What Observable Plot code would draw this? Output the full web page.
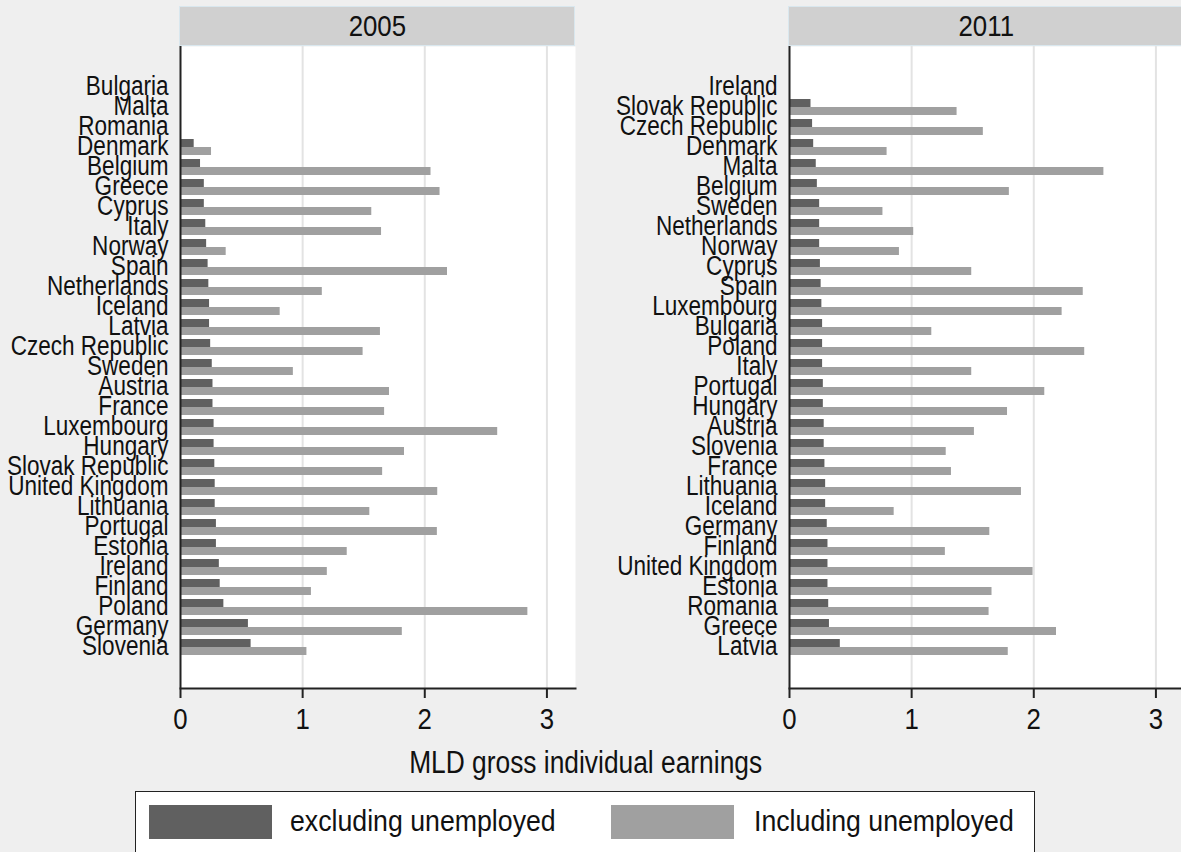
<!DOCTYPE html>
<html>
<head>
<meta charset="utf-8">
<script src="https://cdn.jsdelivr.net/npm/d3@7"></script>
<script src="https://cdn.jsdelivr.net/npm/@observablehq/plot@0.6"></script>
<style>
  html, body { margin: 0; padding: 0; background: #efefef; overflow: hidden; }
  #page { position: relative; width: 1181px; height: 852px; overflow: hidden; background: #efefef;
          font-family: "Liberation Sans", Arial, sans-serif; color: #111; }
  .panel { position: absolute; top: 0; width: 620px; }
  .strip { position: absolute; top: 6px; height: 38px; background: #d0d0d0; border: 1px solid #d9e7ee;
           text-align: center; font-size: 30px; line-height: 38px; }
  .narrow { display: inline-block; transform: scaleX(0.86); }
  .strip .narrow { transform-origin: 50% 50%; }
  #xtitle { position: absolute; left: 0; width: 1172px; top: 745px; text-align: center; font-size: 31px; }
  #xtitle .narrow { transform: scaleX(0.85); transform-origin: 50% 50%; }
  #legend { position: absolute; left: 135px; top: 791px; width: 898px; height: 80px; background: #fff;
            border: 1.5px solid #222; }
  .sw { position: absolute; top: 13px; width: 123px; height: 34px; }
  .lt { position: absolute; top: 9px; font-size: 30px; line-height: 40px; white-space: nowrap; }
  .lt .narrow { transform: scaleX(0.89); transform-origin: 0 50%; }
</style>
</head>
<body>
<div id="page">
  <div id="p2005" class="panel" style="left:0px"></div>
  <div id="p2011" class="panel" style="left:590px"></div>
  <div class="strip" style="left:179px; width:394px;"><span class="narrow">2005</span></div>
  <div class="strip" style="left:788px; width:394px;"><span class="narrow">2011</span></div>
  <div id="xtitle"><span class="narrow">MLD gross individual earnings</span></div>
  <div id="legend">
    <div class="sw" style="left:13px; background:#606060;"></div>
    <div class="lt" style="left:154px;"><span class="narrow">excluding unemployed</span></div>
    <div class="sw" style="left:475px; background:#a0a0a0;"></div>
    <div class="lt" style="left:618px;"><span class="narrow">Including unemployed</span></div>
  </div>
</div>
<script>
// Mean log deviation of gross individual earnings, by country and year.
// Rows are listed top to bottom; null means no estimate for that year.
const countries2005 = ["Bulgaria", "Malta", "Romania", "Denmark", "Belgium", "Greece", "Cyprus", "Italy",
  "Norway", "Spain", "Netherlands", "Iceland", "Latvia", "Czech Republic", "Sweden", "Austria", "France",
  "Luxembourg", "Hungary", "Slovak Republic", "United Kingdom", "Lithuania", "Portugal", "Estonia",
  "Ireland", "Finland", "Poland", "Germany", "Slovenia"];
const excl2005 = [null, null, null, 0.112, 0.164, 0.195, 0.195, 0.207, 0.214, 0.226, 0.232, 0.238, 0.238,
  0.247, 0.26, 0.266, 0.266, 0.275, 0.275, 0.281, 0.284, 0.284, 0.294, 0.294, 0.318, 0.325, 0.355, 0.556, 0.578];
const incl2005 = [null, null, null, 0.254, 2.051, 2.125, 1.566, 1.646, 0.374, 2.186, 1.161, 0.816, 1.637,
  1.495, 0.924, 1.711, 1.671, 2.597, 1.834, 1.655, 2.106, 1.55, 2.103, 1.365, 1.202, 1.072, 2.844, 1.816, 1.035];

const countries2011 = ["Ireland", "Slovak Republic", "Czech Republic", "Denmark", "Malta", "Belgium",
  "Sweden", "Netherlands", "Norway", "Cyprus", "Spain", "Luxembourg", "Bulgaria", "Poland", "Italy",
  "Portugal", "Hungary", "Austria", "Slovenia", "France", "Lithuania", "Iceland", "Germany", "Finland",
  "United Kingdom", "Estonia", "Romania", "Greece", "Latvia"];
const excl2011 = [null, 0.176, 0.189, 0.198, 0.219, 0.228, 0.247, 0.247, 0.247, 0.253, 0.259, 0.265, 0.271,
  0.271, 0.271, 0.277, 0.277, 0.284, 0.284, 0.29, 0.296, 0.296, 0.309, 0.315, 0.315, 0.315, 0.321, 0.327, 0.416];
const incl2011 = [null, 1.372, 1.587, 0.799, 2.574, 1.80, 0.765, 1.017, 0.90, 1.492, 2.405, 2.232, 1.165,
  2.417, 1.492, 2.09, 1.785, 1.514, 1.283, 1.326, 1.899, 0.857, 1.64, 1.276, 1.994, 1.658, 1.634, 2.186, 1.791];

const xTicks = [0, 1, 2, 3];
const seriesColors = {excl: "#606060", incl: "#a0a0a0"};
const font = '"Liberation Sans", Arial, sans-serif';

// Squeeze tick labels horizontally about their anchor point for a condensed face.
function condense(svg, selector, sx) {
  d3.select(svg).selectAll(selector).each(function () {
    const t = this.getAttribute("transform");
    if (t) {
      this.setAttribute("transform", `${t} scale(${sx},1)`);
    } else {
      const x = +(this.getAttribute("x") || 0);
      this.setAttribute("transform", `translate(${x},0) scale(${sx},1) translate(${-x},0)`);
    }
  });
}

function panel(countries, excl, incl, marginLeft) {
  const rows = countries.map((country, i) => ({country, excl: excl[i], incl: incl[i]}));
  const svg = Plot.plot({
    width: marginLeft + 395 + 15,
    height: 745,
    marginLeft,
    marginRight: 15,
    marginTop: 46,
    marginBottom: 57,
    style: {background: "transparent", fontFamily: font, color: "#111", overflow: "visible", maxWidth: "none"},
    x: {domain: [0, 3.234], label: null},
    y: {domain: countries, label: null, paddingInner: 0.211, paddingOuter: 1.455},
    marks: [
      Plot.frame({fill: "white", stroke: null}),
      Plot.gridX(xTicks.slice(1), {stroke: "#e3e3e3", strokeOpacity: 1, strokeWidth: 2}),
      Plot.barX(rows, {x: "excl", y: "country", fill: seriesColors.excl, insetBottom: 8}),
      Plot.barX(rows, {x: "incl", y: "country", fill: seriesColors.incl, insetTop: 8}),
      Plot.ruleX([0], {stroke: "#222", strokeWidth: 2}),
      Plot.frame({anchor: "bottom", stroke: "#222", strokeWidth: 2}),
      Plot.axisX({ticks: xTicks, tickSize: 10, tickPadding: 9, fontSize: 30, stroke: "#222",
                  strokeWidth: 2, tickFormat: d => String(d), label: null}),
      Plot.axisY({tickSize: 0, tickPadding: 12, fontSize: 27, dy: -1, label: null})
    ]
  });
  condense(svg, 'g[aria-label="y-axis tick label"] text', 0.835);
  condense(svg, 'g[aria-label="x-axis tick label"] text', 0.86);
  return svg;
}

document.getElementById("p2005").append(panel(countries2005, excl2005, incl2005, 180));
document.getElementById("p2011").append(panel(countries2011, excl2011, incl2011, 199));
</script>
</body>
</html>
